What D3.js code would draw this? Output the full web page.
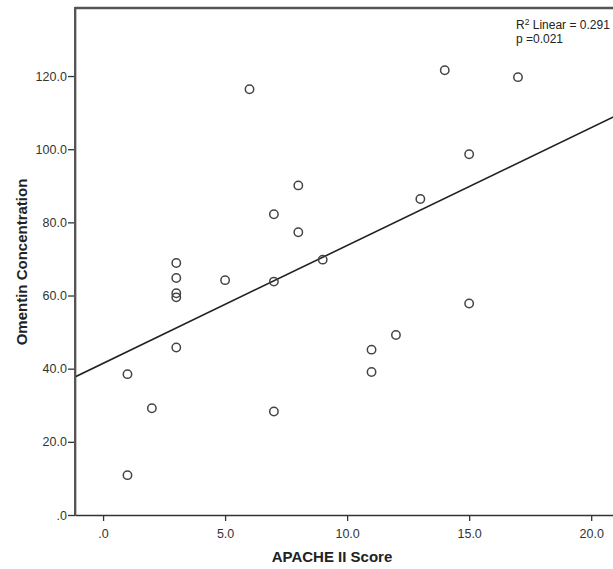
<!DOCTYPE html>
<html>
<head>
<meta charset="utf-8">
<script src="https://cdn.jsdelivr.net/npm/d3@7"></script>
<style>
  body { margin: 0; background: #fff; }
  svg { display: block; }
</style>
</head>
<body>
<script>
var w = 613;
var h = 569;

// APACHE II score vs omentin concentration
var apache = [1, 1, 2, 3, 3, 3, 3, 3, 5, 6, 7, 7, 7, 8, 8, 9, 11, 11, 12, 13, 14, 15, 15, 17];
var omentin = [38.5, 10.9, 29.2, 68.9, 64.8, 60.6, 59.5, 45.8, 64.2, 116.4, 82.2, 63.8, 28.3,
               90.1, 77.3, 69.8, 45.2, 39.1, 49.2, 86.4, 121.6, 98.6, 57.8, 119.7];
var xTicks = [0, 5, 10, 15, 20];
var yTicks = [0, 20, 40, 60, 80, 100, 120];
var fitNote = ["Linear = 0.291", "p =0.021"];

var points = apache.map(function(d, i){ return {x: d, y: omentin[i]}; });

var x = d3.scaleLinear().domain([-1.15, 22]).range([75, 640]);
var y = d3.scaleLinear().domain([0, 138.6]).range([515, 8]);

// SPSS style labels: ".0", "5.0", "10.0"
function spssFmt(v) {
  var s = d3.format(".1f")(v);
  return s.replace(/^0\./, ".");
}

// least squares fit
var mx = d3.mean(apache), my = d3.mean(omentin);
var sxy = d3.sum(points, function(d){ return (d.x - mx) * (d.y - my); });
var sxx = d3.sum(points, function(d){ return (d.x - mx) * (d.x - mx); });
var slope = sxy / sxx;
var icpt = my - slope * mx;

var svg = d3.select("body").append("svg")
  .attr("width", w)
  .attr("height", h)
  .style("font-family", "'Liberation Sans', Arial, sans-serif");

svg.append("defs").append("clipPath").attr("id", "plot")
  .append("rect")
  .attr("x", x(-1.15)).attr("y", y(138.6))
  .attr("width", x(22) - x(-1.15)).attr("height", y(0) - y(138.6));

// regression line
var xd = x.domain();
svg.append("line")
  .attr("clip-path", "url(#plot)")
  .attr("x1", x(xd[0])).attr("y1", y(icpt + slope * xd[0]))
  .attr("x2", x(xd[1])).attr("y2", y(icpt + slope * xd[1]))
  .attr("stroke", "#222")
  .attr("stroke-width", 1.6);

// markers
svg.selectAll("circle")
  .data(points)
  .enter()
  .append("circle")
  .attr("cx", function(d){ return x(d.x); })
  .attr("cy", function(d){ return y(d.y); })
  .attr("r", 4.2)
  .attr("fill", "none")
  .attr("stroke", "#444")
  .attr("stroke-width", 1.5);

// axes
var xAxis = svg.append("g")
  .attr("transform", "translate(0," + y(0) + ")")
  .call(d3.axisBottom(x).tickValues(xTicks).tickFormat(spssFmt).tickSize(6).tickSizeOuter(0));
var yAxis = svg.append("g")
  .attr("transform", "translate(" + x(-1.15) + ",0)")
  .call(d3.axisLeft(y).tickValues(yTicks).tickFormat(spssFmt).tickSize(7).tickSizeOuter(0));

[xAxis, yAxis].forEach(function(g){
  g.select(".domain").attr("stroke", "#333").attr("stroke-width", 1.6);
  g.selectAll(".tick line").attr("stroke", "#333").attr("stroke-width", 1.3);
  g.selectAll(".tick text")
    .attr("fill", "#333")
    .attr("font-size", "12.5px")
    .attr("font-family", "'Liberation Sans', Arial, sans-serif");
});
xAxis.selectAll(".tick text").attr("dy", "1.1em");
yAxis.selectAll(".tick text").attr("dx", "0.15em");

// top frame line
svg.append("line")
  .attr("x1", x(-1.15)).attr("y1", y(138.6))
  .attr("x2", x(22)).attr("y2", y(138.6))
  .attr("stroke", "#555")
  .attr("stroke-width", 2.5);
svg.append("line")
  .attr("x1", x(-1.15)).attr("y1", y(138.6) - 1)
  .attr("x2", x(-1.15)).attr("y2", y(0))
  .attr("stroke", "#555")
  .attr("stroke-width", 2);

// fit note
var note = svg.append("text")
  .attr("x", 516).attr("y", 29)
  .attr("font-size", "12px")
  .attr("fill", "#222");
note.append("tspan").text("R");
note.append("tspan").attr("font-size", "8.5px").attr("dy", "-4").text("2");
note.append("tspan").attr("dy", "4").text(" " + fitNote[0]);
svg.append("text")
  .attr("x", 516).attr("y", 43)
  .attr("font-size", "12px")
  .attr("fill", "#222")
  .text(fitNote[1]);

// axis titles
svg.append("text")
  .attr("x", 332).attr("y", 562)
  .attr("text-anchor", "middle")
  .attr("font-size", "15px")
  .attr("font-weight", "bold")
  .attr("fill", "#222")
  .text("APACHE II Score");
svg.append("text")
  .attr("transform", "translate(27,262) rotate(-90)")
  .attr("text-anchor", "middle")
  .attr("font-size", "15px")
  .attr("font-weight", "bold")
  .attr("fill", "#222")
  .text("Omentin Concentration");
</script>
</body>
</html>
